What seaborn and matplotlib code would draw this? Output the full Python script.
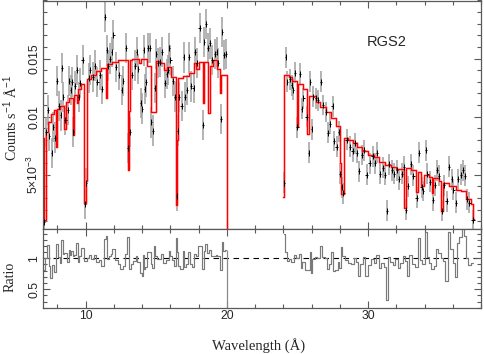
import numpy as np
import pandas as pd
import matplotlib
matplotlib.use("Agg")
import matplotlib.pyplot as plt
from matplotlib.ticker import MultipleLocator, FixedLocator, FixedFormatter
import seaborn as sns

# ---------------- data ----------------
# Segment A : 7 - 20 Angstrom
wl_a = [7.08, 7.20, 7.33, 7.42, 7.59, 7.71, 7.83, 7.99, 8.13, 8.23, 8.32, 8.42, 8.56,
        8.75, 8.84, 8.93, 9.03, 9.12, 9.27, 9.41, 9.51, 9.60, 9.79, 9.95, 10.04,
        10.22, 10.31, 10.50, 10.66, 10.82, 11.02, 11.16, 11.37, 11.49, 11.60, 11.72,
        11.84, 11.96, 12.15, 12.38, 12.55, 12.67, 12.84, 13.03, 13.12, 13.28, 13.49,
        13.61, 13.73, 13.90, 14.02, 14.10, 14.17, 14.27, 14.44, 14.56, 14.66, 14.76,
        14.91, 14.98, 15.14, 15.26, 15.39, 15.62, 15.74, 15.85, 15.92, 15.99, 16.21,
        16.33, 16.45, 16.52, 16.61, 16.80, 16.94, 17.04, 17.16, 17.34, 17.46, 17.65,
        17.74, 17.86, 18.10, 18.33, 18.40, 18.50, 18.69, 18.83, 18.97, 19.16, 19.28,
        19.39, 19.58, 19.68, 19.80, 19.93]
cts_a = [0.0009, 0.0087, 0.0106, 0.0083, 0.0069, 0.0091, 0.0082, 0.0131, 0.0109, 0.0101,
         0.0142, 0.0117, 0.0097, 0.0106, 0.0131, 0.0123, 0.0130, 0.0087, 0.0126, 0.0140,
         0.0117, 0.0129, 0.0149, 0.0025, 0.0043, 0.0133, 0.0140, 0.0134, 0.0144, 0.0130,
         0.0136, 0.0124, 0.0186, 0.0157, 0.0144, 0.0150, 0.0156, 0.0170, 0.0143, 0.0136,
         0.0123, 0.0131, 0.0159, 0.0073, 0.0087, 0.0136, 0.0144, 0.0156, 0.0141, 0.0112,
         0.0107, 0.0157, 0.0124, 0.0130, 0.0159, 0.0159, 0.0095, 0.0088, 0.0125, 0.0154,
         0.0146, 0.0147, 0.0156, 0.0129, 0.0137, 0.0140, 0.0159, 0.0149, 0.0131, 0.0117,
         0.0032, 0.0088, 0.0117, 0.0109, 0.0151, 0.0117, 0.0123, 0.0151, 0.0126, 0.0125,
         0.0156, 0.0146, 0.0176, 0.0093, 0.0164, 0.0180, 0.0159, 0.0163, 0.0149, 0.0154,
         0.0156, 0.0146, 0.0098, 0.0173, 0.0153, 0.0154]

# Segment B : 24 - 37.5 Angstrom
wl_b = [24.07, 24.17, 24.28, 24.47, 24.59, 24.71, 24.83, 24.99, 25.18, 25.30, 25.41,
        25.65, 25.82, 25.89, 26.01, 26.12, 26.31, 26.47, 26.66, 26.83, 27.02, 27.18,
        27.30, 27.50, 27.59, 27.78, 27.92, 28.01, 28.13, 28.25, 28.49, 28.72, 28.91,
        29.08, 29.20, 29.38, 29.55, 29.71, 29.90, 30.14, 30.33, 30.49, 30.65, 30.85,
        31.04, 31.20, 31.36, 31.50, 31.67, 31.84, 32.03, 32.21, 32.38, 32.55, 32.67,
        32.85, 33.02, 33.20, 33.45, 33.61, 33.80, 33.91, 34.10, 34.20, 34.39, 34.58,
        34.74, 34.90, 35.05, 35.22, 35.38, 35.57, 35.74, 35.93, 36.04, 36.23, 36.39,
        36.56, 36.70, 36.87, 36.99, 37.17, 37.45]
cts_b = [0.0043, 0.0151, 0.0130, 0.0132, 0.0127, 0.0123, 0.0138, 0.0091, 0.0137, 0.0107,
         0.0116, 0.0100, 0.0069, 0.0130, 0.0089, 0.0117, 0.0116, 0.0114, 0.0130, 0.0110,
         0.0104, 0.0086, 0.0094, 0.0109, 0.0079, 0.0074, 0.0087, 0.0051, 0.0039, 0.0034,
         0.0080, 0.0074, 0.0070, 0.0077, 0.0069, 0.0053, 0.0067, 0.0071, 0.0050, 0.0060,
         0.0066, 0.0060, 0.0069, 0.0051, 0.0056, 0.0050, 0.0019, 0.0059, 0.0054, 0.0051,
         0.0054, 0.0046, 0.0051, 0.0057, 0.0020, 0.0040, 0.0059, 0.0049, 0.0030, 0.0069,
         0.0039, 0.0036, 0.0071, 0.0051, 0.0044, 0.0028, 0.0041, 0.0054, 0.0049, 0.0019,
         0.0041, 0.0027, 0.0057, 0.0046, 0.0037, 0.0026, 0.0046, 0.0050, 0.0054, 0.0049,
         0.0029, 0.0026, 0.0011]

err_a = 0.0013   # typical 1-sigma half-length of the grey error bars
err_b = 0.0009

# Model (step function: start wavelength of each step, value)
model_wl_a = [7.00, 7.08, 7.16, 7.35, 7.55, 7.75, 7.92, 7.98, 8.20, 8.50, 8.58, 8.80,
              9.08, 9.16, 9.38, 9.44, 9.65, 9.90, 9.99, 10.08, 10.35, 10.75, 11.10,
              11.45, 11.52, 11.90, 12.30, 12.98, 13.08, 13.16, 13.30, 13.75, 13.95,
              14.35, 14.62, 14.95, 15.30, 15.55, 15.75, 16.05, 16.40, 16.49, 16.56,
              16.90, 17.30, 17.65, 17.85, 18.05, 18.28, 18.36, 18.70, 18.78, 19.00,
              19.30, 19.55, 19.62, 20.00]
model_a = [0.0082, 0.0011, 0.0087, 0.0095, 0.0102, 0.0106, 0.0074, 0.0107, 0.0109,
           0.0089, 0.0113, 0.0116, 0.0084, 0.0119, 0.0112, 0.0124, 0.0128, 0.0026,
           0.0045, 0.0132, 0.0136, 0.0139, 0.0142, 0.0116, 0.0145, 0.0147, 0.0149,
           0.0054, 0.0105, 0.0149, 0.0150, 0.0146, 0.0150, 0.0144, 0.0104, 0.0148,
           0.0146, 0.0140, 0.0143, 0.0134, 0.0024, 0.0080, 0.0133, 0.0135, 0.0138,
           0.0146, 0.0141, 0.0147, 0.0112, 0.0147, 0.0103, 0.0144, 0.0149, 0.0141,
           0.0120, 0.0136, 0.0]
model_wl_b = [24.00, 24.08, 24.40, 24.60, 24.95, 25.05, 25.40, 25.70, 25.85, 26.30,
              26.60, 27.00, 27.40, 27.70, 28.00, 28.08, 28.30, 28.60, 28.90, 29.20,
              29.60, 30.00, 30.40, 30.80, 31.20, 31.60, 32.00, 32.58, 32.72, 33.05,
              33.40, 33.52, 33.75, 33.95, 34.30, 34.50, 34.62, 35.05, 35.15, 35.28,
              35.70, 36.20, 36.60, 36.95, 37.30, 37.40, 37.50]
model_b = [0.0031, 0.0136, 0.0134, 0.0131, 0.0091, 0.0128, 0.0124, 0.0085, 0.0118,
           0.0113, 0.0108, 0.0104, 0.0099, 0.0092, 0.0060, 0.0033, 0.0082, 0.0080,
           0.0077, 0.0074, 0.0070, 0.0067, 0.0065, 0.0061, 0.0058, 0.0057, 0.0055,
           0.0021, 0.0056, 0.0054, 0.0035, 0.0052, 0.0040, 0.0050, 0.0048, 0.0034,
           0.0047, 0.0045, 0.0019, 0.0043, 0.0040, 0.0037, 0.0036, 0.0029, 0.0025,
           0.0012, 0.0012]

gap_lo, gap_hi = 20.0, 24.0

xticks = [10, 20, 30]
yticks_top = [0.005, 0.01, 0.015]
ytick_labels_top = [r"5$\times$10$^{-3}$", "0.01", "0.015"]
yticks_ratio = [0.5, 1.0]
ytick_labels_ratio = ["0.5", "1"]

# ---------------- helpers ----------------
def model_at(edges, vals, x):
    edges = np.asarray(edges)
    idx = np.searchsorted(edges, np.asarray(x), side="right") - 1
    return np.asarray(vals)[np.clip(idx, 0, len(vals) - 1)]

def half_widths(c):
    c = np.asarray(c)
    d = np.diff(c) / 2.0
    left = np.concatenate([[d[0]], d])
    right = np.concatenate([d, [d[-1]]])
    return left, right

# ---------------- figure ----------------
sns.set_theme(style="ticks")
plt.rcParams["font.family"] = ["Liberation Sans", "DejaVu Sans"]
plt.rcParams["mathtext.fontset"] = "custom"
plt.rcParams["mathtext.rm"] = "Liberation Sans"

W, H = 484, 354
fig = plt.figure(figsize=(W / 100, H / 100), dpi=100)
x0, x1 = 43.3 / W, 481.0 / W
ax1 = fig.add_axes([x0, 1 - 229.3 / H, x1 - x0, 228.8 / H])
ax2 = fig.add_axes([x0, 1 - 307.7 / H, x1 - x0, 78.4 / H])

spine_col = "#5a5a5a"
for ax in (ax1, ax2):
    for s in ax.spines.values():
        s.set_color(spine_col)
        s.set_linewidth(0.9)
    ax.tick_params(which="both", direction="in", top=True, right=True,
                   color=spine_col, width=0.8, labelsize=8.8, pad=2)
    ax.tick_params(which="major", length=5)
    ax.tick_params(which="minor", length=2.8)
    ax.set_xlim(7, 38)
    ax.xaxis.set_major_locator(FixedLocator(xticks))
    ax.xaxis.set_minor_locator(MultipleLocator(2))

segments = [(wl_a, cts_a, err_a, model_wl_a, model_a),
            (wl_b, cts_b, err_b, model_wl_b, model_b)]

for wl, cts, err, mwl, mval in segments:
    wl = np.asarray(wl)
    cts = np.asarray(cts)
    lw_, rw_ = half_widths(wl)
    # grey vertical error bars
    ax1.errorbar(wl, cts, yerr=err, fmt="none", ecolor="#a0a0a0", elinewidth=1.3,
                 alpha=0.85, zorder=1)
    # model
    dfm = pd.DataFrame({"wl": mwl, "flux": mval})
    sns.lineplot(data=dfm, x="wl", y="flux", ax=ax1, drawstyle="steps-post",
                 color="#ff8a8a", lw=1.8, alpha=0.5, sort=False, estimator=None,
                 legend=False, zorder=2)
    sns.lineplot(data=dfm, x="wl", y="flux", ax=ax1, drawstyle="steps-post",
                 color="red", lw=0.9, sort=False, estimator=None, legend=False,
                 zorder=3)
    # black crosses (bin width + short vertical)
    ax1.errorbar(wl, cts, xerr=[lw_ * 0.9, rw_ * 0.9], fmt="none", ecolor="black",
                 elinewidth=0.7, zorder=4)
    sns.scatterplot(x=wl, y=cts, ax=ax1, marker="|", s=14, color="black",
                    linewidth=0.7, zorder=4, legend=False)

    # ratio
    ratio = cts / model_at(mwl, mval, wl)
    dfr = pd.DataFrame({"wl": wl, "ratio": ratio})
    sns.lineplot(data=dfr, x="wl", y="ratio", ax=ax2, drawstyle="steps-mid",
                 color="#7a7a7a", lw=0.85, sort=False, estimator=None, legend=False)

# edge of the chip gap in the ratio panel
ratio_a = np.asarray(cts_a) / model_at(model_wl_a, model_a, wl_a)
ax2.vlines(gap_lo, 0, ratio_a[-1], color="#8a8a8a", lw=0.9)

ax2.axhline(1.0, color="black", lw=0.8, ls=(0, (5, 4)), zorder=0)

# axes ranges and ticks
ax1.set_ylim(0.0003, 0.0200)
ax1.yaxis.set_major_locator(FixedLocator(yticks_top))
ax1.yaxis.set_major_formatter(FixedFormatter(ytick_labels_top))
ax1.yaxis.set_minor_locator(MultipleLocator(0.001))
ax1.tick_params(axis="x", labelbottom=False)

ax2.set_ylim(0.2, 1.47)
ax2.yaxis.set_major_locator(FixedLocator(yticks_ratio))
ax2.yaxis.set_major_formatter(FixedFormatter(ytick_labels_ratio))
ax2.yaxis.set_minor_locator(MultipleLocator(0.1))
ax2.set_xticklabels([str(t) for t in xticks])

for ax in (ax1, ax2):
    ax.set_xlabel("")
    ax.set_ylabel("")
    for lab in ax.get_yticklabels():
        lab.set_rotation(90)
        lab.set_va("center")

serif = ["Liberation Serif", "DejaVu Serif"]
fig.text(259 / W, 1 - 346 / H, "Wavelength (Å)", ha="center", va="center",
         fontsize=10.5, family=serif)
fig.text(11 / W, 1 - 118 / H, r"Counts s$^{-1}$ Å$^{-1}$", ha="center", va="center",
         rotation=90, fontsize=10, family=serif)
fig.text(10 / W, 1 - 277 / H, "Ratio", ha="center", va="center", rotation=90,
         fontsize=10, family=serif)
ax1.text(0.785, 0.82, "RGS2", transform=ax1.transAxes, ha="center", va="center",
         fontsize=10.5)

fig.savefig("out.png", dpi=100)
